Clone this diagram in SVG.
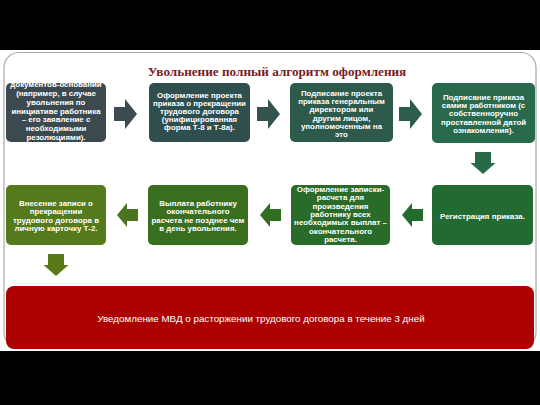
<svg xmlns="http://www.w3.org/2000/svg" width="540" height="405" viewBox="0 0 540 405">
<defs>
<style>
.t{font-family:"Liberation Sans",Arial,sans-serif;font-weight:bold;font-size:7.9px;fill:#fff;text-anchor:middle}
.title{font-family:"Liberation Serif","Times New Roman",serif;font-weight:bold;font-size:13.2px;fill:#7b1a22;text-anchor:middle}
.r{font-family:"Liberation Sans",Arial,sans-serif;font-size:9.8px;fill:#fff;text-anchor:middle}
</style>
<path id="ar" d="M0,-7 H11 V-15 L23,0 L11,15 V7 H0 Z"/>
<path id="al" d="M0,0 L10,-12 V-6 H21 V6 H10 V12 Z"/>
<path id="ad" d="M-8,0 H8 V11 H12.5 L0,22 L-12.5,11 H-8 Z"/>
<clipPath id="c1"><rect x="6" y="83" width="100" height="59.5" rx="5"/></clipPath>
</defs>
<rect x="0" y="0" width="540" height="405" fill="#000"/>
<rect x="0" y="50" width="540" height="301" fill="#fff"/>
<rect x="4" y="52.5" width="532" height="295" rx="15" fill="#fff" stroke="#a8a8a8" stroke-width="1.2"/>
<text class="title" x="277" y="76">Увольнение полный алгоритм оформления</text>

<g id="connectors">
<use href="#ar" x="114" y="114" fill="#3c4a52"/>
<use href="#ar" x="257" y="114" fill="#34524e"/>
<use href="#ar" x="399" y="114" fill="#2d5e4c"/>
<use href="#ad" x="483" y="152" fill="#276a4a"/>
<use href="#al" x="402" y="215" fill="#256b2e"/>
<use href="#al" x="260" y="215" fill="#326d22"/>
<use href="#al" x="117" y="215" fill="#4a7420"/>
<use href="#ad" x="56" y="254" fill="#5a7a1a"/>
</g>

<g id="n1">
<rect x="6" y="83" width="100" height="59" rx="5" fill="#3c4a50"/>
<g clip-path="url(#c1)">
<text class="t" x="56" y="86.5">документов-оснований</text>
<text class="t" x="56" y="96.2">(например, в случае</text>
<text class="t" x="56" y="104.9">увольнения по</text>
<text class="t" x="56" y="113.6">инициативе работника</text>
<text class="t" x="56" y="122.3">– его заявление с</text>
<text class="t" x="56" y="131">необходимыми</text>
<text class="t" x="56" y="139.7">резолюциями).</text>
<text class="t" x="56" y="148">Регистрация</text>
</g>
</g>

<g id="n2">
<rect x="149" y="83" width="101" height="59" rx="5" fill="#2f4e4e"/>
<text class="t" x="199.5" y="97.7">Оформление проекта</text>
<text class="t" x="199.5" y="105.8">приказа о прекращении</text>
<text class="t" x="199.5" y="113.9">трудового договора</text>
<text class="t" x="199.5" y="122">(унифицированная</text>
<text class="t" x="199.5" y="130.1">форма Т-8 и Т-8а).</text>
</g>

<g id="n3">
<rect x="290" y="83" width="103" height="59" rx="5" fill="#2e5a4b"/>
<text class="t" x="341.5" y="96">Подписание проекта</text>
<text class="t" x="341.5" y="104.2">приказа генеральным</text>
<text class="t" x="341.5" y="112.4">директором или</text>
<text class="t" x="341.5" y="120.6">другим лицом,</text>
<text class="t" x="341.5" y="128.8">уполномоченным на</text>
<text class="t" x="341.5" y="137">это</text>
</g>

<g id="n4">
<rect x="432" y="83" width="103" height="60" rx="5" fill="#296a4c"/>
<text class="t" x="483.5" y="100">Подписание приказа</text>
<text class="t" x="483.5" y="108.2">самим работником (с</text>
<text class="t" x="483.5" y="116.4">собственноручно</text>
<text class="t" x="483.5" y="124.6">проставленной датой</text>
<text class="t" x="483.5" y="132.8">ознакомления).</text>
</g>

<g id="n5">
<rect x="432" y="185" width="101" height="60" rx="5" fill="#216b32"/>
<text class="t" x="482.5" y="218.7">Регистрация приказа.</text>
</g>

<g id="n6">
<rect x="291" y="185" width="99" height="60" rx="5" fill="#2a6b29"/>
<text class="t" x="340.5" y="192">Оформление записки-</text>
<text class="t" x="340.5" y="200.3">расчета для</text>
<text class="t" x="340.5" y="208.6">произведения</text>
<text class="t" x="340.5" y="216.9">работнику всех</text>
<text class="t" x="340.5" y="225.2">необходимых выплат –</text>
<text class="t" x="340.5" y="233.5">окончательного</text>
<text class="t" x="340.5" y="241.8">расчета.</text>
</g>

<g id="n7">
<rect x="148" y="185" width="100" height="60" rx="5" fill="#3a6e1f"/>
<text class="t" x="198" y="206">Выплата работнику</text>
<text class="t" x="198" y="214.3">окончательного</text>
<text class="t" x="198" y="222.6">расчета не позднее чем</text>
<text class="t" x="198" y="230.9">в день увольнения.</text>
</g>

<g id="n8">
<rect x="6" y="185" width="100" height="60" rx="5" fill="#557a1c"/>
<text class="t" x="56" y="206">Внесение записи о</text>
<text class="t" x="56" y="214.3">прекращении</text>
<text class="t" x="56" y="222.6">трудового договора в</text>
<text class="t" x="56" y="230.9">личную карточку Т-2.</text>
</g>

<g id="n9">
<rect x="6" y="286" width="528" height="63" rx="8" fill="#ad0000"/>
<text class="r" x="261" y="321.8">Уведомление МВД о расторжении трудового договора в течение 3 дней</text>
</g>
</svg>
